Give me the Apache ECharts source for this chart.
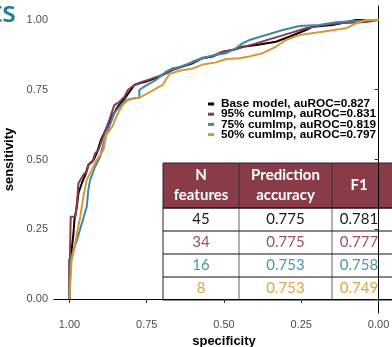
<!DOCTYPE html>
<html>
<head>
<meta charset="utf-8">
<script src="https://cdn.jsdelivr.net/npm/echarts@6/dist/echarts.min.js"></script>
<style>
  html, body { margin: 0; padding: 0; background: #fff; }
  #chart { width: 392px; height: 347px; }
</style>
</head>
<body>
<div id="chart"></div>
<script>
// ROC curves: specificity (x) / sensitivity (y) pairs
const baseSpec = [1.0, 1.0, 0.993, 0.987, 0.984, 0.976, 0.971, 0.96, 0.949, 0.939, 0.922, 0.912, 0.898, 0.865, 0.844, 0.817, 0.79, 0.774, 0.752, 0.709, 0.698, 0.666, 0.634, 0.601, 0.569, 0.537, 0.504, 0.472, 0.44, 0.396, 0.332, 0.289, 0.235, 0.213, 0.149, 0.073, 0.0];
const baseSens = [0, 0.14, 0.176, 0.235, 0.283, 0.331, 0.379, 0.415, 0.444, 0.48, 0.498, 0.522, 0.57, 0.648, 0.689, 0.725, 0.767, 0.773, 0.779, 0.797, 0.803, 0.821, 0.833, 0.845, 0.863, 0.869, 0.886, 0.892, 0.904, 0.91, 0.922, 0.94, 0.964, 0.976, 0.982, 1.0, 1.0];

const imp95Spec = [1.0, 0.998, 0.996, 0.981, 0.976, 0.971, 0.965, 0.952, 0.944, 0.939, 0.925, 0.917, 0.906, 0.887, 0.871, 0.855, 0.838, 0.822, 0.811, 0.79, 0.763, 0.736, 0.709, 0.666, 0.634, 0.601, 0.569, 0.537, 0.504, 0.45, 0.396, 0.343, 0.289, 0.235, 0.181, 0.127, 0.041, 0.0];
const imp95Sens = [0, 0.176, 0.295, 0.295, 0.343, 0.415, 0.42, 0.45, 0.456, 0.48, 0.492, 0.522, 0.534, 0.594, 0.642, 0.695, 0.707, 0.725, 0.749, 0.767, 0.779, 0.789, 0.799, 0.821, 0.835, 0.847, 0.865, 0.871, 0.885, 0.899, 0.916, 0.934, 0.952, 0.97, 0.982, 0.988, 0.993, 1.0];

const imp75Spec = [1.0, 0.996, 0.987, 0.976, 0.96, 0.944, 0.939, 0.933, 0.917, 0.901, 0.887, 0.871, 0.855, 0.838, 0.817, 0.79, 0.774, 0.774, 0.758, 0.72, 0.687, 0.666, 0.634, 0.601, 0.569, 0.526, 0.493, 0.461, 0.44, 0.418, 0.364, 0.31, 0.256, 0.192, 0.138, 0.073, 0.008, 0.0];
const imp75Sens = [0, 0.14, 0.176, 0.211, 0.271, 0.331, 0.391, 0.427, 0.474, 0.51, 0.57, 0.618, 0.666, 0.689, 0.713, 0.72, 0.72, 0.749, 0.761, 0.785, 0.815, 0.827, 0.833, 0.851, 0.863, 0.875, 0.881, 0.899, 0.916, 0.928, 0.946, 0.964, 0.978, 0.982, 0.992, 0.996, 1.0, 1.0];

const imp50Spec = [1.0, 0.993, 0.985, 0.976, 0.965, 0.955, 0.944, 0.928, 0.912, 0.89, 0.881, 0.86, 0.849, 0.828, 0.811, 0.784, 0.768, 0.747, 0.709, 0.698, 0.677, 0.644, 0.601, 0.569, 0.526, 0.493, 0.45, 0.418, 0.375, 0.332, 0.3, 0.256, 0.181, 0.105, 0.073, 0.041, 0.0];
const imp50Sens = [0, 0.14, 0.176, 0.235, 0.295, 0.367, 0.427, 0.462, 0.498, 0.534, 0.588, 0.62, 0.653, 0.695, 0.713, 0.719, 0.725, 0.737, 0.761, 0.767, 0.806, 0.818, 0.826, 0.84, 0.848, 0.86, 0.863, 0.869, 0.881, 0.904, 0.928, 0.946, 0.958, 0.97, 0.988, 1.0, 1.0];

const seriesNames = ["Base model, auROC=0.827", "95% cumImp, auROC=0.831", "75% cumImp, auROC=0.819", "50% cumImp, auROC=0.797"];
const axisTicks = [0, 0.25, 0.5, 0.75, 1];

// table
const tableHeader = [["N", "features"], ["Prediction", "accuracy"], ["F1"]];
const nFeatures = ["45", "34", "16", "8"];
const accuracy = ["0.775", "0.775", "0.753", "0.753"];
const f1 = ["0.781", "0.777", "0.758", "0.749"];

const lineColors = ["#000000", "#8b3a4a", "#3f87a5", "#d49a3a"];
const textColors = ["#1a1a1a", "#a04f5f", "#4a97b0", "#dca640"];
const headerFill = "#8a3b48";

const zip = (xs, ys) => xs.map((x, i) => [x, ys[i]]);
const curves = [zip(baseSpec, baseSens), zip(imp95Spec, imp95Sens), zip(imp75Spec, imp75Sens), zip(imp50Spec, imp50Sens)];

// table graphic
const colX = [163, 239, 332, 400];
const rowY = [163, 208, 231, 254, 277, 300];
const colCenter = [201, 285.5, 359];
const tableEls = [];
tableEls.push({ type: "rect", shape: { x: colX[0], y: rowY[0], width: colX[3] - colX[0], height: rowY[1] - rowY[0] },
    style: { fill: headerFill, stroke: "#222", lineWidth: 1 } });
[colX[1], colX[2]].forEach(x => {
    tableEls.push({ type: "line", shape: { x1: x, y1: rowY[0], x2: x, y2: rowY[1] }, style: { stroke: "#333", lineWidth: 1 } });
    tableEls.push({ type: "line", shape: { x1: x, y1: rowY[1], x2: x, y2: rowY[5] }, style: { stroke: "#666", lineWidth: 1 } });
});
tableEls.push({ type: "line", shape: { x1: colX[0], y1: rowY[1], x2: colX[0], y2: rowY[5] }, style: { stroke: "#222", lineWidth: 1 } });
for (let r = 1; r < rowY.length; r++) {
    tableEls.push({ type: "line", shape: { x1: colX[0], y1: rowY[r], x2: colX[3], y2: rowY[r] }, style: { stroke: "#111", lineWidth: 1 } });
}
tableHeader.forEach((lines, c) => {
    const mid = (rowY[0] + rowY[1]) / 2;
    lines.forEach((t, k) => {
        const y = lines.length === 1 ? mid : mid + (k - 0.5) * 20;
        tableEls.push({ type: "text", x: colCenter[c], y: y,
            style: { text: t, fill: "#fff", font: "bold 15px Lato", textAlign: "center", textVerticalAlign: "middle" } });
    });
});
[nFeatures, accuracy, f1].forEach((col, c) => {
    col.forEach((t, r) => {
        tableEls.push({ type: "text", x: colCenter[c], y: (rowY[r + 1] + rowY[r + 2]) / 2,
            style: { text: t, fill: textColors[r], font: "15px Lato", textAlign: "center", textVerticalAlign: "middle" } });
    });
});

const chart = echarts.init(document.getElementById("chart"));
const option = {
    animation: false,
    backgroundColor: "#fff",
    grid: { left: 54, right: -2, top: 6, bottom: 34, outerBoundsMode: "none", containLabel: false },
    xAxis: {
        type: "value",
        inverse: true,
        min: -0.05,
        max: 1.05,
        name: "specificity",
        nameLocation: "middle",
        nameGap: 18,
        nameTextStyle: { color: "#000", fontWeight: "bold", fontSize: 13, fontFamily: "Liberation Sans" },
        axisLine: { lineStyle: { color: "#000", width: 1 } },
        axisTick: { show: true, length: 4, customValues: axisTicks, lineStyle: { color: "#333" } },
        axisLabel: { customValues: axisTicks, margin: 6, color: "#4d4d4d", fontSize: 11, fontFamily: "Liberation Sans",
            formatter: v => v.toFixed(2) },
        splitLine: { show: false },
    },
    yAxis: {
        type: "value",
        min: -0.05,
        max: 1.05,
        name: "sensitivity",
        nameLocation: "middle",
        nameGap: 30,
        nameTextStyle: { color: "#000", fontWeight: "bold", fontSize: 13, fontFamily: "Liberation Sans" },
        axisLine: { show: true, lineStyle: { color: "#000", width: 1 } },
        axisTick: { show: true, length: 4, customValues: axisTicks, lineStyle: { color: "#333" } },
        axisLabel: { customValues: axisTicks, margin: 6, color: "#4d4d4d", fontSize: 11, fontFamily: "Liberation Sans",
            formatter: v => v.toFixed(2) },
        splitLine: { show: false },
    },
    legend: {
        orient: "vertical",
        left: 203,
        top: 93,
        itemGap: -1.8,
        itemWidth: 6,
        itemHeight: 3,
        icon: "rect",
        data: seriesNames,
        textStyle: { color: "#000", fontWeight: "bold", fontSize: 11.8, fontFamily: "Liberation Sans",
            padding: [0, 0, 0, 2] },
    },
    series: curves.map((d, i) => ({
        name: seriesNames[i],
        type: "line",
        data: d,
        showSymbol: false,
        color: lineColors[i],
        lineStyle: { width: 2, color: lineColors[i] },
    })),
    graphic: [
        { type: "text", x: 16, y: 28, style: { text: "ts", fill: "#237c98", font: "600 28px 'Open Sans'", textAlign: "right", textVerticalAlign: "bottom" } },
        { type: "group", children: tableEls, z: 100 },
    ],
};
chart.setOption(option);
</script>
</body>
</html>
